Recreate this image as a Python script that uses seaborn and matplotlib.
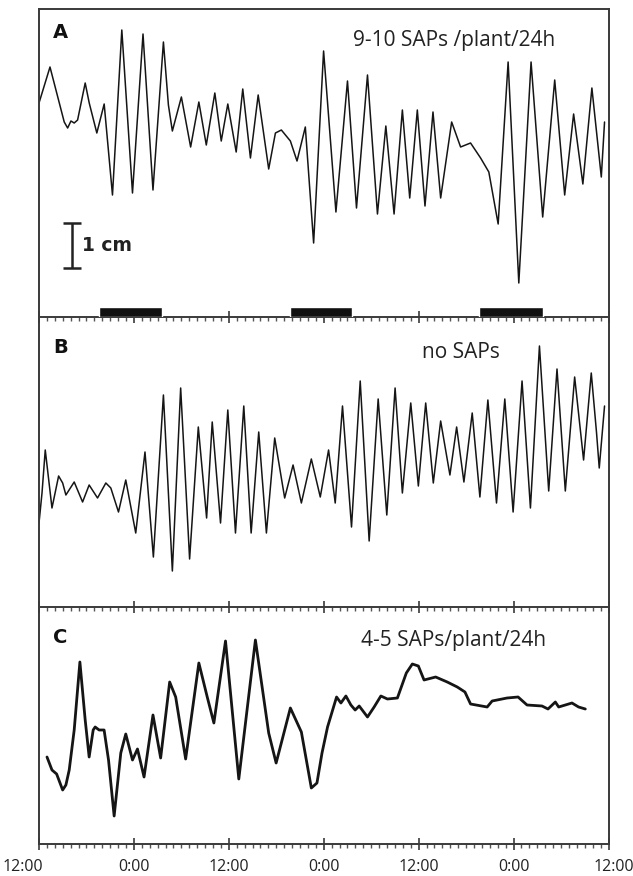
import numpy as np
import pandas as pd
import matplotlib
matplotlib.use("Agg")
import matplotlib.pyplot as plt
import seaborn as sns
from matplotlib.ticker import MultipleLocator
from matplotlib.transforms import ScaledTranslation

# ---------------- data (time in hours from 12:00, signal in arbitrary units; 45 units = 1 cm) -------------
hours_a = [0.0, 1.39, 3.19, 3.62, 4.04, 4.45, 4.88, 5.84, 6.35, 7.31, 8.24, 9.29, 10.47, 11.82, 13.15,
           14.41, 15.73, 16.36, 16.86, 18.0, 19.17, 20.21, 21.15, 22.23, 23.04, 23.87, 24.93, 25.76,
           26.73, 27.71, 29.04, 29.89, 30.64, 31.78, 32.62, 33.67, 34.72, 35.98, 37.54, 39.0, 40.14,
           41.53, 42.79, 43.85, 44.89, 45.94, 46.87, 47.83, 48.80, 49.81, 50.78, 52.17, 53.30, 54.56,
           55.83, 56.87, 58.05, 59.31, 60.66, 62.21, 63.68, 65.20, 66.46, 67.59, 68.76, 69.90, 71.09, 71.5]
signal_a = [211, 247, 192, 186, 193, 191, 194, 231, 211, 181, 210, 119, 284, 121, 280,
            124, 272, 209, 183, 217, 167, 212, 169, 221, 173, 210, 162, 225,
            156, 219, 145, 181, 184, 173, 153, 187, 71, 263, 102, 233, 106,
            239, 100, 188, 100, 204, 116, 204, 108, 202, 116, 192, 167, 171,
            156, 142, 90, 252, 31, 252, 97, 234, 119, 200, 130, 226, 137, 192]

hours_b = [0.0, 0.38, 0.79, 1.64, 2.48, 2.99, 3.40, 4.45, 5.51, 6.34, 7.40, 8.45, 9.08, 10.05, 10.97,
           12.23, 13.40, 14.46, 15.73, 16.86, 17.91, 19.04, 20.14, 21.19, 21.90, 22.95, 23.87, 24.84,
           25.89, 26.82, 27.78, 28.75, 29.80, 31.06, 32.12, 33.17, 34.43, 35.56, 36.61, 37.45, 38.37,
           39.51, 40.61, 41.74, 42.88, 43.97, 45.02, 45.94, 47.0, 47.96, 48.89, 49.85, 50.78, 51.95,
           52.80, 53.72, 54.77, 55.74, 56.75, 57.84, 58.89, 59.94, 61.07, 62.13, 63.27, 64.44, 65.49,
           66.54, 67.72, 68.85, 69.82, 70.49, 70.83, 71.5]
signal_b = [83, 113, 156, 98, 130, 123, 111, 124, 104, 121, 108, 123, 118, 94, 126,
            73, 154, 49, 211, 35, 218, 47, 179, 88, 184, 83, 196, 73,
            200, 73, 174, 73, 168, 108, 141, 103, 147, 109, 156, 103, 200,
            79, 225, 65, 207, 91, 218, 113, 203, 120, 203, 123, 185, 131,
            179, 124, 193, 109, 206, 103, 207, 94, 225, 98, 260, 115, 237,
            115, 229, 146, 233, 173, 138, 200]

hours_c = [1.01, 1.64, 2.23, 2.99, 3.40, 3.82, 4.45, 5.17, 5.84, 6.34, 6.85, 7.10, 7.60, 8.23, 8.79,
           9.50, 10.34, 10.97, 11.82, 12.45, 13.28, 14.41, 15.38, 16.52, 17.28, 18.54, 20.21, 21.27,
           22.11, 23.58, 25.26, 27.36, 29.04, 29.98, 31.78, 33.17, 34.43, 35.14, 35.78, 36.48, 37.62,
           38.17, 38.80, 39.43, 39.97, 40.48, 41.53, 42.37, 43.22, 44.05, 45.31, 46.44, 47.20, 47.96,
           48.68, 50.15, 51.61, 52.88, 53.85, 54.56, 56.66, 57.29, 59.18, 60.57, 61.70, 63.59, 64.35,
           65.28, 65.70, 67.38, 68.22, 69.07]
signal_c = [88, 75, 71, 55, 60, 75, 115, 183, 125, 88, 115, 118, 115, 115, 85,
            29, 92, 111, 85, 96, 68, 130, 87, 163, 148, 86, 182, 148,
            122, 204, 66, 205, 112, 82, 137, 113, 57, 62, 92, 118, 148,
            142, 149, 140, 135, 139, 128, 138, 149, 146, 147, 172, 181, 179,
            165, 168, 163, 158, 153, 141, 138, 144, 147, 148, 140, 139, 136,
            143, 138, 142, 138, 136]

night_start = [7.6, 31.7, 55.6]
night_end = [15.6, 39.6, 63.7]

tick_hours = [0, 12, 24, 36, 48, 60, 72]
tick_labels = ["12:00", "0:00", "12:00", "0:00", "12:00", "0:00", "12:00"]

panel_letters = ["A", "B", "C"]
panel_notes = ["9-10 SAPs /plant/24h", "no SAPs", "4-5 SAPs/plant/24h"]

scale_cm_units = 45        # 1 cm in signal units
scale_bar_hour = 4.16
scale_bar_base = 46

# ---------------- figure ----------------
sns.set_theme(style="white")
plt.rcParams["font.family"] = ["Open Sans", "DejaVu Sans"]

W, H = 633, 876
fig = plt.figure(figsize=(W / 100, H / 100), dpi=100)

left = 39 / W
right = 608.5 / W
wid = right - left


def frac(y):
    return 1 - y / H


ax_a = fig.add_axes([left, frac(317), wid, frac(9) - frac(317)])
ax_b = fig.add_axes([left, frac(607), wid, frac(317) - frac(607)])
ax_c = fig.add_axes([left, frac(844), wid, frac(607) - frac(844)])

df_a = pd.DataFrame({"hour": hours_a, "signal": signal_a})
df_b = pd.DataFrame({"hour": hours_b, "signal": signal_b})
df_c = pd.DataFrame({"hour": hours_c, "signal": signal_c})

trace_col = "#151515"
sns.lineplot(data=df_a, x="hour", y="signal", ax=ax_a, color=trace_col, lw=1.1,
             estimator=None, sort=False)
sns.lineplot(data=df_b, x="hour", y="signal", ax=ax_b, color=trace_col, lw=1.1,
             estimator=None, sort=False)
sns.lineplot(data=df_c, x="hour", y="signal", ax=ax_c, color=trace_col, lw=2.0,
             estimator=None, sort=False)

ax_a.set_ylim(-3, 305)
ax_b.set_ylim(-1, 289)
ax_c.set_ylim(1, 238)

# night bars
ns = np.array(night_start)
ne = np.array(night_end)
ax_a.bar(ns, 10.5, width=ne - ns, bottom=-3, align="edge", color="#111111", zorder=3)

# scale bar
sb_col = "#222222"
ax_a.plot([scale_bar_hour, scale_bar_hour], [scale_bar_base, scale_bar_base + scale_cm_units],
          color=sb_col, lw=1.8, solid_capstyle="butt")
for yy in (scale_bar_base, scale_bar_base + scale_cm_units):
    ax_a.plot([scale_bar_hour - 1.1, scale_bar_hour + 1.1], [yy, yy], color=sb_col, lw=1.8,
              solid_capstyle="butt")
ax_a.text(scale_bar_hour + 1.25, scale_bar_base + scale_cm_units / 2, "1 cm",
          fontsize=13.5, fontweight="bold", family="DejaVu Sans", color="#222222",
          ha="left", va="center")

spine_col = "#3a3a3a"
letter_y = [0.925, 0.895, 0.873]
note_y = [0.899, 0.876, 0.857]
for i, ax in enumerate([ax_a, ax_b, ax_c]):
    ax.set_xlim(0, 72)
    ax.set_xlabel("")
    ax.set_ylabel("")
    ax.set_yticks([])
    ax.set_xticks(tick_hours)
    ax.xaxis.set_minor_locator(MultipleLocator(1))
    for s in ax.spines.values():
        s.set_color(spine_col)
        s.set_linewidth(1.4)
    if i > 0:
        ax.spines["top"].set_visible(False)
    ax.patch.set_alpha(0)
    ax.tick_params(axis="x", which="major", direction="inout", length=9, width=1.2,
                   color=spine_col, bottom=True)
    ax.tick_params(axis="x", which="minor", direction="out", length=3.2, width=1.0,
                   color="#555555", bottom=True)
    ax.text(0.0377, letter_y[i], panel_letters[i], transform=ax.transAxes,
            fontsize=14, fontweight="bold", family="DejaVu Sans", color="#111111",
            ha="center", va="center")
    ax.text(0.7285 if i != 1 else 0.7417, note_y[i], panel_notes[i], transform=ax.transAxes,
            fontsize=15, color="#222222", ha="center", va="center")

ax_a.set_xticklabels([])
ax_b.set_xticklabels([])
ax_c.set_xticklabels(tick_labels, fontsize=11.5, color="#222222")
ax_c.tick_params(axis="x", which="major", pad=6)

labels = ax_c.get_xticklabels()
labels[0].set_transform(labels[0].get_transform() + ScaledTranslation(-0.16, 0, fig.dpi_scale_trans))
labels[-1].set_transform(labels[-1].get_transform() + ScaledTranslation(0.05, 0, fig.dpi_scale_trans))

fig.savefig("out.png", dpi=100)
